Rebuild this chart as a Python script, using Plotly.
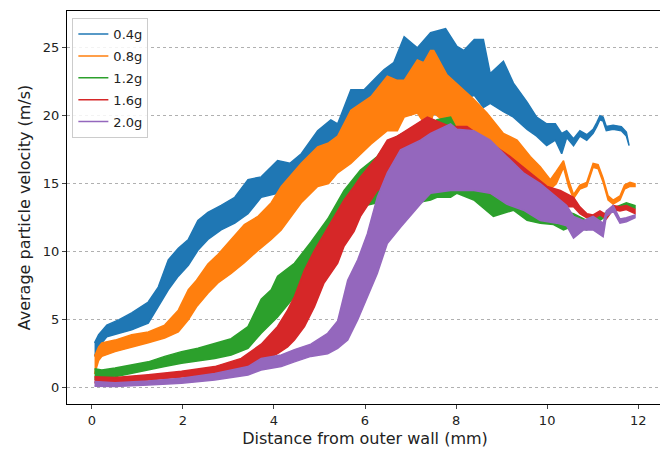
import plotly.graph_objects as go

# ---- data (band envelopes of each noisy series) ----
x_04 = [0.06, 0.15, 0.33, 0.6, 0.875, 1.05, 1.24, 1.46, 1.68, 1.9, 2.12, 2.33, 2.55, 2.84, 3.14, 3.43, 3.72, 4.08, 4.35, 4.6, 4.96, 5.25, 5.4, 5.69, 5.98, 6.27, 6.42, 6.63, 6.86, 7.15, 7.44, 7.77, 8.02, 8.17, 8.4, 8.6, 8.75, 9.04, 9.26, 9.56, 9.77, 9.99, 10.18, 10.32, 10.43, 10.58, 10.72, 10.87, 11.01, 11.09, 11.16, 11.23, 11.3, 11.45, 11.63, 11.74, 11.8]
hi_04 = [3.3, 3.9, 4.6, 5.0, 5.5, 5.9, 6.3, 7.4, 9.4, 10.25, 10.9, 12.3, 12.9, 13.4, 14.0, 15.3, 15.5, 16.7, 16.5, 17.2, 18.9, 19.7, 19.4, 21.9, 21.9, 22.9, 23.4, 23.9, 25.8, 25.0, 26.1, 26.4, 25.1, 24.8, 25.6, 25.6, 23.1, 24.0, 22.4, 21.0, 19.9, 19.4, 19.4, 18.7, 18.9, 18.3, 18.9, 18.6, 19.0, 19.5, 20.0, 19.9, 19.2, 19.3, 19.2, 18.8, 18.0]
lo_04 = [2.3, 3.0, 3.75, 4.0, 4.25, 4.5, 4.75, 5.95, 7.2, 8.2, 9.0, 10.1, 10.9, 11.6, 12.1, 12.8, 14.0, 14.3, 14.9, 15.3, 16.5, 17.5, 17.5, 18.2, 19.2, 20.2, 20.4, 20.9, 21.9, 21.9, 22.1, 22.3, 21.9, 21.2, 21.5, 20.6, 20.9, 20.3, 19.9, 19.0, 18.5, 17.8, 18.2, 17.2, 18.4, 17.8, 18.5, 18.2, 18.7, 19.2, 19.7, 19.6, 18.9, 19.0, 18.9, 18.5, 17.8]

x_08 = [0.06, 0.15, 0.22, 0.51, 0.875, 1.24, 1.6, 1.9, 2.12, 2.3, 2.55, 2.77, 3.06, 3.35, 3.65, 3.94, 4.16, 4.6, 4.96, 5.2, 5.4, 5.69, 6.13, 6.49, 6.71, 6.86, 7.15, 7.29, 7.44, 7.51, 7.8, 8.17, 8.39, 8.68, 9.04, 9.34, 9.63, 9.85, 10.07, 10.2, 10.36, 10.47, 10.58, 10.72, 10.87, 11.01, 11.12, 11.23, 11.34, 11.45, 11.6, 11.7, 11.82, 11.93]
hi_08 = [2.3, 3.0, 3.3, 3.5, 3.9, 4.1, 4.6, 5.7, 7.2, 7.9, 9.1, 9.8, 10.9, 12.0, 12.6, 13.6, 14.8, 16.5, 17.7, 18.0, 18.5, 20.4, 21.4, 22.9, 22.6, 22.6, 24.1, 23.9, 24.8, 24.8, 23.0, 21.9, 21.2, 20.2, 18.7, 18.2, 17.0, 16.25, 15.3, 15.9, 16.7, 15.3, 14.2, 14.9, 15.1, 16.5, 16.4, 15.4, 14.1, 13.8, 14.1, 14.9, 15.1, 15.0]
lo_08 = [1.0, 2.0, 2.3, 2.65, 3.0, 3.3, 3.65, 4.1, 5.0, 5.95, 6.95, 7.7, 8.4, 9.2, 10.1, 10.9, 11.6, 13.6, 14.8, 15.0, 15.8, 16.5, 17.9, 18.9, 18.9, 19.9, 20.2, 19.5, 19.5, 20.2, 19.4, 18.2, 17.6, 17.0, 16.25, 15.8, 15.3, 14.8, 14.6, 15.0, 16.2, 14.8, 13.9, 14.6, 14.8, 16.2, 16.1, 15.1, 13.8, 13.5, 13.8, 14.6, 14.8, 14.8]

x_12 = [0.06, 0.22, 0.51, 0.875, 1.24, 1.6, 1.97, 2.33, 2.7, 3.06, 3.43, 3.72, 3.94, 4.08, 4.45, 4.81, 5.18, 5.54, 5.9, 6.27, 6.49, 6.71, 7.0, 7.44, 7.58, 7.88, 8.02, 8.39, 8.82, 9.26, 9.56, 9.85, 10.14, 10.36, 10.58, 10.87, 11.16, 11.45, 11.74, 11.93]
hi_12 = [1.4, 1.3, 1.45, 1.65, 1.9, 2.3, 2.65, 2.9, 3.25, 3.6, 4.5, 6.5, 7.2, 8.2, 9.15, 10.7, 12.4, 14.5, 16.0, 17.0, 18.0, 18.5, 19.0, 19.2, 19.7, 19.9, 19.0, 18.5, 17.5, 16.5, 15.8, 15.0, 14.0, 13.0, 12.8, 12.3, 12.6, 13.2, 13.6, 13.4]
lo_12 = [0.6, 0.7, 0.8, 1.05, 1.3, 1.55, 1.8, 2.0, 2.15, 2.4, 2.9, 4.0, 4.75, 5.2, 6.7, 8.4, 10.2, 12.1, 13.3, 13.6, 13.3, 13.05, 13.5, 13.8, 14.0, 14.0, 14.3, 13.8, 12.6, 13.05, 12.3, 12.1, 12.0, 11.6, 11.9, 11.6, 12.3, 13.0, 13.4, 13.2]

x_16 = [0.06, 0.51, 1.24, 1.97, 2.7, 3.28, 3.72, 4.08, 4.3, 4.45, 4.67, 4.89, 5.1, 5.4, 5.54, 5.76, 5.9, 6.27, 6.49, 6.71, 7.37, 7.88, 8.24, 8.75, 9.19, 9.63, 10.0, 10.29, 10.58, 10.72, 10.87, 11.01, 11.16, 11.3, 11.45, 11.6, 11.74, 11.93]
hi_16 = [0.8, 0.75, 0.95, 1.2, 1.55, 2.15, 3.2, 4.5, 5.7, 6.7, 8.65, 10.1, 11.3, 13.0, 13.8, 14.8, 15.5, 17.0, 18.2, 18.5, 19.9, 19.2, 19.2, 18.0, 17.0, 15.8, 14.8, 14.5, 14.0, 13.3, 12.8, 12.7, 13.0, 12.7, 13.4, 13.3, 13.4, 13.1]
lo_16 = [0.35, 0.4, 0.57, 0.77, 1.0, 1.4, 1.9, 2.5, 3.0, 3.5, 4.5, 5.95, 7.7, 9.15, 10.4, 11.5, 12.6, 14.5, 14.8, 15.0, 15.0, 14.8, 14.8, 14.3, 13.8, 13.3, 12.8, 13.3, 13.3, 12.8, 12.5, 12.4, 12.7, 12.4, 13.1, 13.0, 13.1, 12.8]

x_20 = [0.06, 0.51, 1.24, 1.97, 2.7, 3.43, 3.72, 4.16, 4.45, 4.81, 5.18, 5.4, 5.62, 5.84, 6.05, 6.27, 6.49, 6.78, 7.22, 7.44, 7.88, 8.02, 8.39, 8.75, 9.11, 9.48, 9.85, 10.21, 10.43, 10.58, 10.8, 11.01, 11.23, 11.3, 11.45, 11.6, 11.74, 11.93]
hi_20 = [0.45, 0.37, 0.5, 0.7, 1.05, 1.55, 2.15, 2.4, 2.8, 3.2, 4.0, 4.9, 7.9, 9.4, 11.3, 14.0, 15.8, 17.5, 18.2, 18.7, 19.4, 19.0, 18.9, 18.2, 17.0, 15.8, 15.0, 14.0, 13.4, 12.6, 12.3, 12.6, 12.1, 13.0, 13.4, 12.4, 12.5, 12.7]
lo_20 = [0.1, 0.08, 0.2, 0.32, 0.57, 0.93, 1.3, 1.55, 1.9, 2.3, 2.5, 2.9, 3.5, 5.0, 6.7, 8.4, 10.6, 11.8, 13.5, 14.3, 14.5, 14.5, 14.5, 14.3, 13.5, 13.05, 12.3, 12.1, 11.9, 11.0, 11.6, 11.6, 11.1, 12.6, 13.0, 12.1, 12.2, 12.5]

names = ["0.4g", "0.8g", "1.2g", "1.6g", "2.0g"]
colors = ["#1f77b4", "#ff7f0e", "#2ca02c", "#d62728", "#9467bd"]
series = [(x_04, hi_04, lo_04), (x_08, hi_08, lo_08), (x_12, hi_12, lo_12),
          (x_16, hi_16, lo_16), (x_20, hi_20, lo_20)]

y_ticks = [0, 5, 10, 15, 20, 25]
x_ticks = [0, 2, 4, 6, 8, 10, 12]

fig = go.Figure()
for (xs, hi, lo), name, col in zip(series, names, colors):
    fig.add_trace(go.Scatter(
        x=list(xs) + list(xs)[::-1], y=list(hi) + list(lo)[::-1],
        mode="lines", fill="toself", fillcolor=col,
        line=dict(color=col, width=1.5), showlegend=False, hoverinfo="skip"))
for name, col in zip(names, colors):
    fig.add_trace(go.Scatter(x=[None], y=[None], mode="lines", name=name,
                             legendgroup=name,
                             line=dict(color=col, width=1.5)))

font = "DejaVu Sans, sans-serif"
# the page body adds an 8 px offset; the figure is sized so the visible area is 668x450
fig.update_layout(
    width=660, height=442,
    margin=dict(l=59, r=5, t=3, b=46),
    paper_bgcolor="white", plot_bgcolor="white",
    font=dict(family=font, size=13, color="#222"),
    showlegend=True,
    legend=dict(x=0.009, y=0.982, xanchor="left", yanchor="top",
                bgcolor="rgba(255,255,255,0.85)", bordercolor="#cccccc", borderwidth=1,
                font=dict(size=13, color="#222"), tracegroupgap=2),
    xaxis=dict(range=[-0.545, 12.545], tickvals=x_ticks, ticks="outside", ticklen=4,
               showline=True, linecolor="black", linewidth=1, mirror=True,
               showgrid=False, zeroline=False,
               title=dict(text="Distance from outer wall (mm)", standoff=6)),
    yaxis=dict(range=[-1.2, 27.7], tickvals=y_ticks, ticks="outside", ticklen=4,
               showline=True, linecolor="black", linewidth=1, mirror=True,
               showgrid=True, gridcolor="#b0b0b0", griddash="dot", gridwidth=0.8,
               zeroline=False,
               title=dict(text="Average particle velocity (m/s)", standoff=8)),
)
fig.write_html("out.html")
